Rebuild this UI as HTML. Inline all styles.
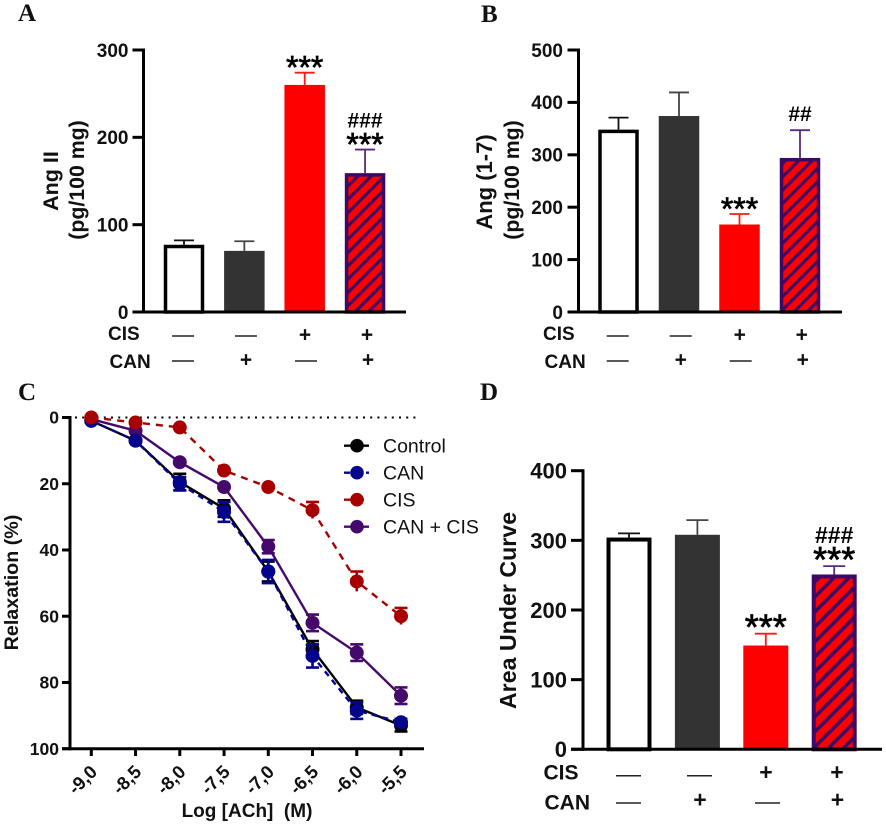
<!DOCTYPE html>
<html lang="en">
<head>
<meta charset="utf-8">
<title>Ang II, Ang (1-7), Relaxation and AUC panels</title>
<style>
html,body{margin:0;padding:0;background:#fff;}
svg{display:block;}
text{font-family:"Liberation Sans",Arial,sans-serif;fill:#111;white-space:pre;}
.panel-letter{font-family:"Liberation Serif","Times New Roman",serif;font-weight:bold;font-size:25px;}
.b{font-weight:bold;}
</style>
</head>
<body>
<svg id="figure" xmlns="http://www.w3.org/2000/svg" width="886" height="824" viewBox="0 0 886 824">
  <defs>
    <pattern id="hatch" patternUnits="userSpaceOnUse" width="9.4" height="9.4" patternTransform="rotate(45)">
      <rect width="9.4" height="9.4" fill="#ff0000"></rect>
      <rect width="3.2" height="9.4" fill="#3c0a64"></rect>
    </pattern>
    <pattern id="hatch-d" patternUnits="userSpaceOnUse" width="10.6" height="10.6" patternTransform="rotate(45)">
      <rect width="10.6" height="10.6" fill="#ff0000"></rect>
      <rect width="3.6" height="10.6" fill="#3c0a64"></rect>
    </pattern>
  </defs>
  <text class="panel-letter" x="18" y="21">A</text>
  <text class="panel-letter" x="481" y="22">B</text>
  <text class="panel-letter" x="18" y="400">C</text>
  <text class="panel-letter" x="480" y="400">D</text>

  <g font-weight="bold" text-anchor="middle">
    <text class="b" font-size="21.5" transform="translate(58 181) rotate(-90)">Ang II</text>
    <text class="b" font-size="21.3" transform="translate(84 180) rotate(-90)">(pg/100 mg)</text>
    <text class="b" font-size="22" transform="translate(492 182) rotate(-90)">Ang (1-7)</text>
    <text class="b" font-size="21.3" transform="translate(519 180) rotate(-90)">(pg/100 mg)</text>
    <text class="b" font-size="19.7" transform="translate(18 582.5) rotate(-90)">Relaxation (%)</text>
    <text class="b" font-size="19" x="247" y="817">Log [ACh]  (M)</text>
    <text class="b" font-size="23.2" transform="translate(516 610.5) rotate(-90)">Area Under Curve</text>
  </g>
</svg>
<script>
// Panel A data
const panelAValues = [77, 70, 260, 159];
const panelAErrors = [5, 11, 14, 27];
const panelATicks = [0, 100, 200, 300];
const panelAStars = ['', '', '***', '***'];
const panelAHashes = ['', '', '', '###'];
// Panel B data
const panelBValues = [348, 374, 167, 294];
const panelBErrors = [23, 45, 20, 53];
const panelBTicks = [0, 100, 200, 300, 400, 500];
const panelBStars = ['', '', '***', ''];
const panelBHashes = ['', '', '', '##'];
// Panel D data
const panelDValues = [304, 308, 149, 251];
const panelDErrors = [6, 21, 17, 12];
const panelDTicks = [0, 100, 200, 300, 400];
const panelDStars = ['', '', '***', '***'];
const panelDHashes = ['', '', '', '###'];
// Treatment rows shared by the bar panels
const cisRow = ['—', '—', '+', '+'];
const canRow = ['—', '+', '—', '+'];
const groupNames = ['control', 'can', 'cis', 'can-cis'];
// Panel C data
const doseLabels = ['-9,0', '-8,5', '-8,0', '-7,5', '-7,0', '-6,5', '-6,0', '-5,5'];
const doseValues = [-9, -8.5, -8, -7.5, -7, -6.5, -6, -5.5];
const relaxationTicks = [0, 20, 40, 60, 80, 100];
const controlMeans = [1, 7, 19.5, 27.5, 46.5, 70, 87.5, 93];
const controlErrors = [0.5, 0.5, 2.5, 2.5, 3, 2.5, 2, 1.8];
const canMeans = [1, 7, 20, 28.5, 46.5, 72, 88.5, 92];
const canErrors = [0.5, 0.5, 2, 3, 3.5, 3.5, 2.5, 1];
const cisMeans = [0, 1.5, 3, 16, 21, 28, 49.5, 60];
const cisErrors = [0, 0, 0, 0, 0, 2.5, 3, 2.5];
const comboMeans = [0.5, 4, 13.5, 21, 39, 62, 71, 84];
const comboErrors = [0.3, 0.5, 0.5, 0.5, 2, 2.5, 2.5, 2.5];

const svg = document.getElementById('figure');
const NS = 'http://www.w3.org/2000/svg';
function make(tag, props, parent) {
  const el = document.createElementNS(NS, tag);
  for (const k in props) el.setAttribute(k, props[k]);
  (parent || svg).appendChild(el);
  return el;
}
function line(x1, y1, x2, y2, stroke, width, parent) {
  return make('line', {x1: x1, y1: y1, x2: x2, y2: y2, stroke: stroke, 'stroke-width': width}, parent);
}

const barStyles = [
  {fill: '#ffffff', stroke: '#000000', err: '#111111'},
  {fill: '#333333', stroke: 'none', err: '#444444'},
  {fill: '#ff0000', stroke: 'none', err: '#ff1a1a'},
  {fill: 'hatch', stroke: '#3c0a64', err: '#5a2a7e'}
];

function drawBarPanel(id, values, errors, ticks, stars, hashes, g) {
  const y = v => g.y0 - (v / ticks[ticks.length - 1]) * (g.y0 - g.yTop);
  const x = i => g.c0 + i * g.step;
  const panel = make('g', {});
  
  

  values.forEach((v, i) => {
    const st = barStyles[i];
    const errTop = y(v + errors[i]);
    const stem = line(x(i), y(v), x(i), errTop, st.err, 1.8, panel);
    
    
    const cap = line(x(i) - g.cap, errTop, x(i) + g.cap, errTop, st.err, 1.8, panel);
    
    
    const inset = st.stroke === 'none' ? 0 : g.border / 2;
    const bar = make('rect', {
      x: x(i) - g.barW / 2 + inset,
      y: y(v) + inset,
      width: g.barW - 2 * inset,
      height: g.y0 - y(v) - inset,
      fill: st.fill === 'hatch' ? g.hatch : st.fill,
      stroke: st.stroke,
      'stroke-width': g.border
    }, panel);
    
    

    if (stars[i]) {
      const s = make('text', {x: x(i), y: errTop + g.starDy, 'text-anchor': 'middle', 'font-size': g.starSize, stroke: '#000', 'stroke-width': 0.7, style: 'fill:#000'}, panel);
      s.textContent = stars[i];
      
      
    }
    if (hashes[i]) {
      const h = make('text', {x: x(i), y: errTop + (stars[i] ? g.hashDyStar : g.hashDy), 'text-anchor': 'middle', 'font-size': g.hashSize, 'font-weight': 'bold', style: 'fill:#000'}, panel);
      h.textContent = hashes[i];
      
      
    }
  });

  const yAxis = line(g.axisX, g.yTop - 1.5, g.axisX, g.y0 + 1.5, '#000', 3, panel);
  
  
  const xAxis = line(g.axisX - g.tick, g.y0, g.xEnd, g.y0, '#000', 3, panel);
  
  

  ticks.forEach(t => {
    const tk = line(g.axisX - g.tick, y(t), g.axisX, y(t), '#000', 3, panel);
    
    
    const lb = make('text', {x: g.labelX, y: y(t) + g.tickSize * 0.36, 'text-anchor': 'end', 'font-size': g.tickSize, 'font-weight': 'bold'}, panel);
    lb.textContent = t;
    
    
  });

  const rowLabel1 = make('text', {x: g.cisX, y: g.cisY, 'font-size': g.rowSize, 'font-weight': 'bold'}, panel);
  rowLabel1.textContent = 'CIS';
  
  
  const rowLabel2 = make('text', {x: g.canX, y: g.canY, 'font-size': g.rowSize, 'font-weight': 'bold'}, panel);
  rowLabel2.textContent = 'CAN';
  
  

  [[cisRow, g.row1Dash, g.row1Plus, g.row1Col], [canRow, g.row2Dash, g.row2Plus, g.row2Col]].forEach((row, r) => {
    row[0].forEach((sym, i) => {
      const cx = row[3][i];
      if (sym === '—') {
        const d = line(cx - g.dash, row[1], cx + g.dash, row[1], '#222', 1.5, panel);
        
        
      } else {
        const p = make('text', {x: cx, y: row[2] + g.plusSize * 0.35, 'text-anchor': 'middle', 'font-size': g.plusSize, 'font-weight': 'bold'}, panel);
        p.textContent = '+';
        
        
      }
    });
  });
}

const rowA1 = [183, 246, 305, 367];
const rowA2 = [183, 246, 306, 368];
drawBarPanel('a', panelAValues, panelAErrors, panelATicks, panelAStars, panelAHashes, {
  c0: 184, step: 60.35, barW: 40.5, border: 3.5, cap: 10, y0: 312, yTop: 50, axisX: 143.5, xEnd: 406, tick: 11,
  labelX: 128.5, tickSize: 19, rowSize: 19, cisX: 108, cisY: 340, canX: 109.5, canY: 368,
  row1Dash: 336, row1Plus: 334, row2Dash: 361, row2Plus: 359, row1Col: rowA1, row2Col: rowA2,
  dash: 11, plusSize: 21, starSize: 32, starDy: 6, hashSize: 21, hashDy: -9, hashDyStar: -22, hatch: 'url(#hatch)'
});
const rowB1 = rowA1.map(v => v + 434.7);
const rowB2 = rowA2.map(v => v + 434.7);
drawBarPanel('b', panelBValues, panelBErrors, panelBTicks, panelBStars, panelBHashes, {
  c0: 618.5, step: 60.5, barW: 40.5, border: 3.5, cap: 10, y0: 312, yTop: 50, axisX: 578.5, xEnd: 842, tick: 11,
  labelX: 563, tickSize: 19, rowSize: 19, cisX: 543, cisY: 340, canX: 544.5, canY: 368,
  row1Dash: 336, row1Plus: 334, row2Dash: 361, row2Plus: 359, row1Col: rowB1, row2Col: rowB2,
  dash: 11, plusSize: 21, starSize: 32, starDy: 6, hashSize: 21, hashDy: -9, hashDyStar: -22, hatch: 'url(#hatch)'
});
drawBarPanel('d', panelDValues, panelDErrors, panelDTicks, panelDStars, panelDHashes, {
  c0: 629, step: 68.4, barW: 45, border: 4, cap: 11, y0: 749.3, yTop: 470.7, axisX: 583, xEnd: 882, tick: 12,
  labelX: 567, tickSize: 22, rowSize: 21, cisX: 543.5, cisY: 779.5, canX: 544.5, canY: 809.5,
  row1Dash: 775.7, row1Plus: 772, row2Dash: 803, row2Plus: 799.5, row1Col: [628.5, 699.5, 766, 837], row2Col: [628.5, 700, 767.5, 837.5],
  dash: 12.5, plusSize: 23, starSize: 36, starDy: 6, hashSize: 23, hashDy: -9, hashDyStar: -23, hatch: 'url(#hatch-d)'
});

// Panel C
(function () {
  const xS = d => 91.3 + (d - doseValues[0]) / (doseValues[7] - doseValues[0]) * (401 - 91.3);
  const yS = v => 417.5 + (v / 100) * (748.7 - 417.5);
  const panel = make('g', {});
  
  

  const zeroLine = make('line', {x1: 75, y1: yS(0), x2: 419, y2: yS(0), stroke: '#000', 'stroke-width': 2, 'stroke-dasharray': '2 5.2'}, panel);
  
  

  const yAxis = line(70, yS(0) - 1.5, 70, yS(100) + 1.5, '#000', 3, panel);
  
  
  const xAxis = line(62, yS(100), 424, yS(100), '#000', 3, panel);
  
  

  relaxationTicks.forEach(t => {
    const tk = line(62, yS(t), 70, yS(t), '#000', 3, panel);
    
    
    const lb = make('text', {x: 59, y: yS(t) + 6.2, 'text-anchor': 'end', 'font-size': 17.5, 'font-weight': 'bold'}, panel);
    lb.textContent = t;
    
    
  });
  doseValues.forEach((d, i) => {
    const tk = line(xS(d), yS(100), xS(d), 756, '#000', 3, panel);
    
    
    const lb = make('text', {'text-anchor': 'end', 'font-size': 18.5, 'font-weight': 'bold', transform: 'translate(' + (xS(d) + 7) + ' 773) rotate(-45)'}, panel);
    lb.textContent = doseLabels[i];
    
    
  });

  const series = [
    {name: 'can-cis', means: comboMeans, errs: comboErrors, color: '#45096b', dash: ''},
    {name: 'control', means: controlMeans, errs: controlErrors, color: '#000000', dash: ''},
    {name: 'can', means: canMeans, errs: canErrors, color: '#04048c', dash: '6 5'},
    {name: 'cis', means: cisMeans, errs: cisErrors, color: '#a80000', dash: '7 6'}
  ];
  series.forEach(s => {
    const g = make('g', {}, panel);
    
    
    const pts = s.means.map((m, i) => xS(doseValues[i]) + ',' + yS(m)).join(' ');
    const pl = make('polyline', {points: pts, fill: 'none', stroke: s.color, 'stroke-width': 2.4, 'stroke-dasharray': s.dash || 'none'}, g);
    
    
    s.means.forEach((m, i) => {
      const cx = xS(doseValues[i]);
      const e = s.errs[i];
      if (e > 0) {
        const bar = line(cx, yS(m - e), cx, yS(m + e), s.color, 2.6, g);
        
        
        const capTop = line(cx - 6.5, yS(m - e), cx + 6.5, yS(m - e), s.color, 2.6, g);
        
        
        if (s.name !== 'cis') {
          const capBot = line(cx - 6.5, yS(m + e), cx + 6.5, yS(m + e), s.color, 2.6, g);
          
          
        }
      }
      const pt = make('circle', {cx: cx, cy: yS(m), r: 7, fill: s.color}, g);
      
      
    });
  });

  const legend = make('g', {}, panel);
  
  
  const legendLabels = ['Control', 'CAN', 'CIS', 'CAN + CIS'];
  const legendColors = ['#000000', '#04048c', '#a80000', '#45096b'];
  const legendDashes = ['none', '6 5', '7 6', 'none'];
  legendLabels.forEach((lab, i) => {
    const ly = 445.7 + i * 27;
    const entry = make('g', {}, legend);
    
    
    make('line', {x1: 344, y1: ly, x2: 369, y2: ly, stroke: legendColors[i], 'stroke-width': 2.4, 'stroke-dasharray': legendDashes[i]}, entry);
    make('circle', {cx: 357, cy: ly, r: 6.8, fill: legendColors[i]}, entry);
    const t = make('text', {x: 383, y: ly + 6.6, 'font-size': 19.5}, entry);
    t.textContent = lab;
  });
})();
</script>
</body>
</html>
